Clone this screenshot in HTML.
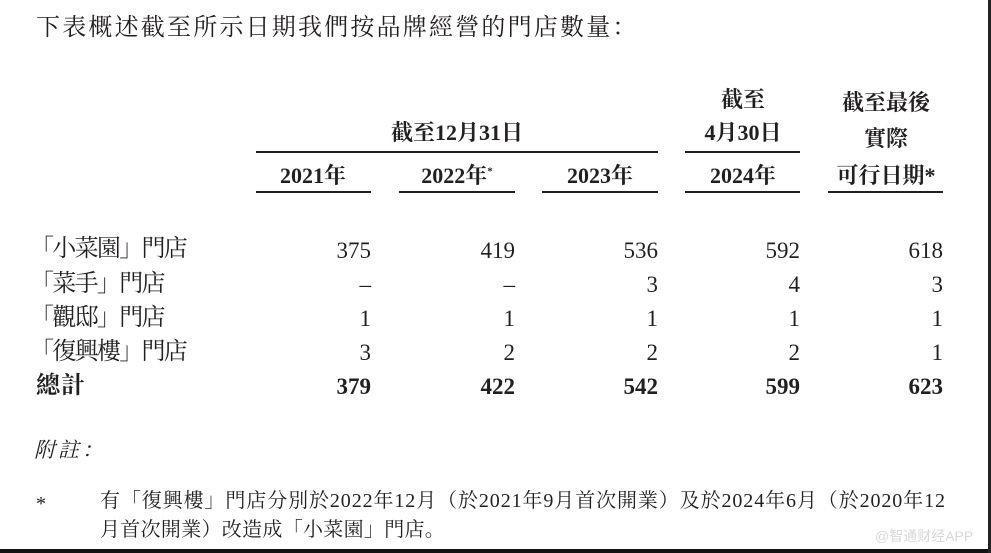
<!DOCTYPE html>
<html><head><meta charset="utf-8"><style>
body{margin:0;width:991px;height:553px;background:#fff;position:relative;overflow:hidden;font-family:"Liberation Serif","Noto Serif CJK SC","Noto Sans CJK TC",serif;color:#231f20}
.a{position:absolute;white-space:nowrap;line-height:1}
.n{position:absolute;font-size:23px;line-height:1;text-align:right;width:120px}
.b{font-weight:bold}
.h{position:absolute;font-size:22px;font-weight:bold;line-height:1;text-align:center;width:140px}
.l{position:absolute;height:2px;background:#231f20}
</style></head><body>
<div class="a" style="left:36px;top:16px;font-size:24px;letter-spacing:2.2px">下表概述截至所示日期我們按品牌經營的門店數量：</div>

<div class="h" style="left:387px;top:122px;width:140px">截至12月31日</div>
<div class="h" style="left:673px;top:89px;">截至</div>
<div class="h" style="left:673px;top:122px;">4月30日</div>
<div class="h" style="left:816px;top:92px;">截至最後</div>
<div class="h" style="left:816px;top:128px;">實際</div>
<div class="l" style="left:256px;top:151px;width:402px"></div>
<div class="l" style="left:685px;top:151px;width:115px"></div>

<div class="h" style="left:243px;top:165px;">2021年</div>
<div class="h" style="left:387px;top:165px;">2022年<sup style="font-size:11px">*</sup></div>
<div class="h" style="left:530px;top:165px;">2023年</div>
<div class="h" style="left:673px;top:165px;">2024年</div>
<div class="h" style="left:816px;top:165px;">可行日期*</div>
<div class="l" style="left:256px;top:191px;width:115px"></div>
<div class="l" style="left:399px;top:191px;width:116px"></div>
<div class="l" style="left:542px;top:191px;width:116px"></div>
<div class="l" style="left:685px;top:191px;width:115px"></div>
<div class="l" style="left:828px;top:191px;width:115px"></div>

<div class="a" style="left:30px;top:237px;font-size:24px;letter-spacing:-1.7px">「小菜園」門店</div>
<div class="a" style="left:30px;top:272px;font-size:24px;letter-spacing:-1.7px">「菜手」門店</div>
<div class="a" style="left:30px;top:306px;font-size:24px;letter-spacing:-1.7px">「觀邸」門店</div>
<div class="a" style="left:30px;top:340px;font-size:24px;letter-spacing:-1.7px">「復興樓」門店</div>
<div class="a b" style="left:36px;top:374px;font-size:24px;letter-spacing:1px">總計</div>

<div class="n" style="left:251px;top:239px">375</div><div class="n" style="left:395px;top:239px">419</div><div class="n" style="left:538px;top:239px">536</div><div class="n" style="left:680px;top:239px">592</div><div class="n" style="left:823px;top:239px">618</div>
<div class="n" style="left:251px;top:273px">–</div><div class="n" style="left:395px;top:273px">–</div><div class="n" style="left:538px;top:273px">3</div><div class="n" style="left:680px;top:273px">4</div><div class="n" style="left:823px;top:273px">3</div>
<div class="n" style="left:251px;top:307px">1</div><div class="n" style="left:395px;top:307px">1</div><div class="n" style="left:538px;top:307px">1</div><div class="n" style="left:680px;top:307px">1</div><div class="n" style="left:823px;top:307px">1</div>
<div class="n" style="left:251px;top:341px">3</div><div class="n" style="left:395px;top:341px">2</div><div class="n" style="left:538px;top:341px">2</div><div class="n" style="left:680px;top:341px">2</div><div class="n" style="left:823px;top:341px">1</div>
<div class="n b" style="left:251px;top:375px">379</div><div class="n b" style="left:395px;top:375px">422</div><div class="n b" style="left:538px;top:375px">542</div><div class="n b" style="left:680px;top:375px">599</div><div class="n b" style="left:823px;top:375px">623</div>

<div class="a" style="left:34px;top:440px;font-size:21px;font-style:italic;letter-spacing:3px">附註：</div>
<div class="a" style="left:36px;top:494px;font-size:20px">*</div>
<div class="a" style="left:100px;top:491px;font-size:20px;letter-spacing:0.9px">有「復興樓」門店分別於2022年12月（於2021年9月首次開業）及於2024年6月（於2020年12</div>
<div class="a" style="left:100px;top:520px;font-size:20px;letter-spacing:0.3px">月首次開業）改造成「小菜園」門店。</div>
<div class="a" style="left:875px;top:529px;font-size:14px;color:#d8d8d8;font-family:'Liberation Sans','Noto Sans CJK SC',sans-serif">@智通财经APP</div>
<div style="position:absolute;left:0;top:549px;width:991px;height:4px;background:#111"></div>
<div style="position:absolute;left:988px;top:0;width:3px;height:553px;background:#222"></div>
</body></html>
